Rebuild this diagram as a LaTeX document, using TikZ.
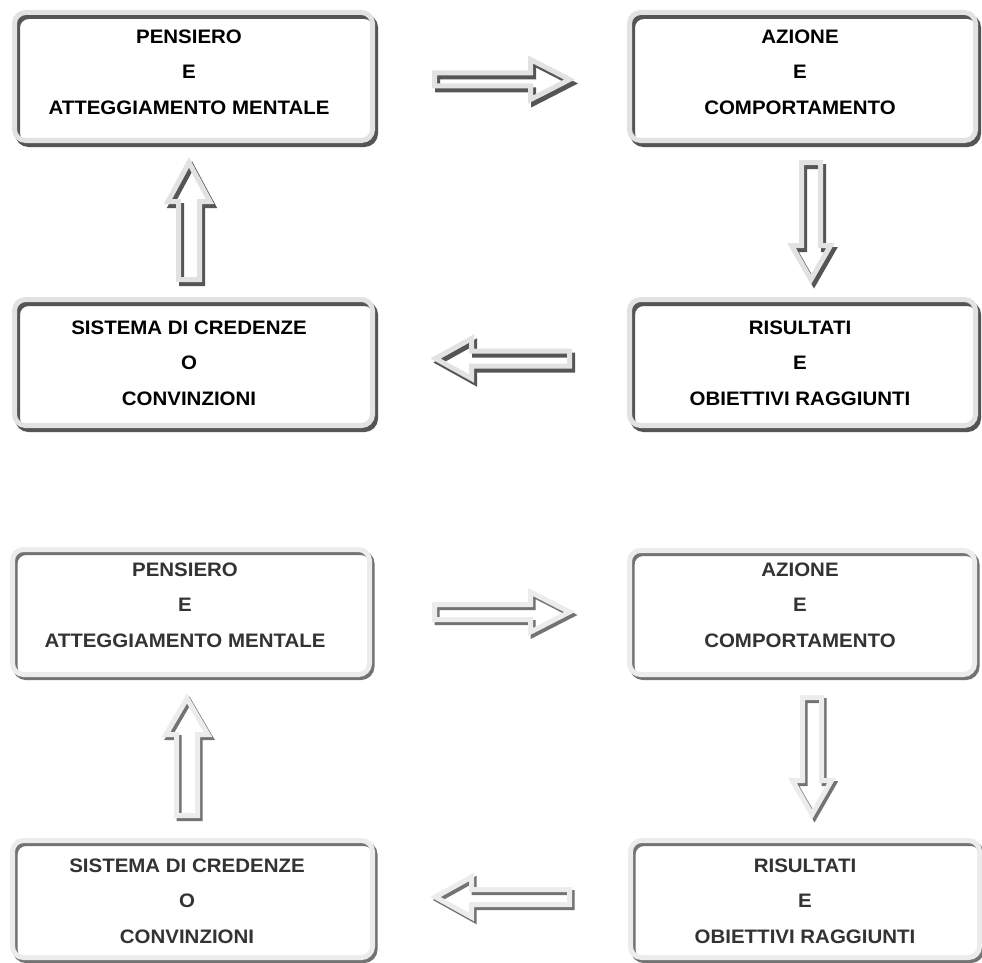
\documentclass[tikz,border=0pt]{standalone}
\usepackage{fontspec}
\setmainfont{Liberation Sans}
\newfontfamily\boxfont[FakeStretch=1.05]{Liberation Sans}
\definecolor{lightA}{HTML}{E2E2E2}
\definecolor{darkA}{HTML}{555555}
\definecolor{lightB}{HTML}{ECECEC}
\definecolor{darkB}{HTML}{737373}
\definecolor{textB}{HTML}{333333}
\tikzset{
  frameA/.style={draw=lightA, line width=5pt, line join=miter, miter limit=10},
  shadeA/.style={draw=darkA, line width=5pt, line join=miter, miter limit=10},
  offA/.style={shift={(3,4)}},
  frameB/.style={draw=lightB, line width=5pt, line join=miter, miter limit=10},
  shadeB/.style={draw=darkB, line width=5pt, line join=miter, miter limit=10},
  offB/.style={shift={(2.5,3)}},
  lblA/.style={align=center, inner sep=0pt, text=black,
    font=\boxfont\bfseries\fontsize{19.5}{35.5}\selectfont},
  lblB/.style={align=center, inner sep=0pt, text=textB,
    font=\boxfont\bfseries\fontsize{19.5}{35.5}\selectfont},
}
% #1 name, #2 x1, #3 y1, #4 x2, #5 y2, #6 style letter
\newcommand\bevelbox[6]{%
  \path[fill=white, rounded corners=11] ({#2+2.5},{#3+2.5}) rectangle ({#4-2.5},{#5-2.5});
  \begin{scope}[off#6]
    \draw[shade#6, rounded corners=11] ({#2+2.5},{#3+2.5}) rectangle ({#4-2.5},{#5-2.5});
  \end{scope}
  \draw[frame#6, rounded corners=11] ({#2+2.5},{#3+2.5}) rectangle ({#4-2.5},{#5-2.5});
  \node[inner sep=0pt, minimum width={#4-#2}, minimum height={#5-#3}] (#1) at ({(#2+#4)/2},{(#3+#5)/2}) {};
}
\newcommand\arrowpath[4]{({-#1/2+2.5},{#2-2.5}) -- ({#1/2-5.5-#3+4},{#2-2.5}) -- ({#1/2-5.5-#3+4},{#4-2.5}) -- ({#1/2-5.5},0) -- ({#1/2-5.5-#3+4},{-#4+2.5}) -- ({#1/2-5.5-#3+4},{-#2+2.5}) -- ({-#1/2+2.5},{-#2+2.5}) -- cycle}
% #1 cx, #2 cy, #3 angle, #4 length, #5 shaft half, #6 head length, #7 head half, #8 style letter
\newcommand\blockarrow[8]{%
  \begin{scope}[shift={(#1,#2)}, rotate=#3]
    \fill[white] \arrowpath{#4}{#5}{#6}{#7};
  \end{scope}
  \begin{scope}[shift={(#1,#2)}, off#8, rotate=#3]
    \draw[shade#8] \arrowpath{#4}{#5}{#6}{#7};
  \end{scope}
  \begin{scope}[shift={(#1,#2)}, rotate=#3]
    \draw[frame#8] \arrowpath{#4}{#5}{#6}{#7};
  \end{scope}
}
\begin{document}
\begin{tikzpicture}[x=1pt,y=-1pt]
\useasboundingbox (0,0) rectangle (982,963);
\clip (0,0) rectangle (982,963);
\fill[white] (0,0) rectangle (982,963);

% ---------- upper diagram ----------
\bevelbox{pensA}{12}{10}{375}{143}{A}
\bevelbox{azioA}{627}{10}{978}{143}{A}
\bevelbox{credA}{12}{297}{375}{428}{A}
\bevelbox{risuA}{627}{297}{978}{428}{A}

\node[lblA] (tpensA) at (189,72) {PENSIERO\\E\\ATTEGGIAMENTO MENTALE};
\node[lblA] (tazioA) at (800,72) {AZIONE\\E\\COMPORTAMENTO};
\node[lblA] (tcredA) at (189,363) {SISTEMA DI CREDENZE\\O\\CONVINZIONI};
\node[lblA] (trisuA) at (800,363) {RISULTATI\\E\\OBIETTIVI RAGGIUNTI};

\blockarrow{503.5}{79.5}{0}{143}{9}{43}{22.5}{A}
\blockarrow{811}{222.5}{-90}{125}{12}{38}{22}{A}
\blockarrow{189}{219.5}{90}{125}{13}{43}{23.5}{A}
\blockarrow{501}{358.5}{180}{142}{10}{40}{22.5}{A}

% ---------- lower diagram ----------
\bevelbox{pensB}{10}{547}{372}{677}{B}
\bevelbox{azioB}{627}{548}{977}{677}{B}
\bevelbox{credB}{10}{838}{375}{960}{B}
\bevelbox{risuB}{628}{838}{982}{960}{B}

\node[lblB] (tpensB) at (185,605) {PENSIERO\\E\\ATTEGGIAMENTO MENTALE};
\node[lblB] (tazioB) at (800,605) {AZIONE\\E\\COMPORTAMENTO};
\node[lblB] (tcredB) at (187,901) {SISTEMA DI CREDENZE\\O\\CONVINZIONI};
\node[lblB] (trisuB) at (805,901) {RISULTATI\\E\\OBIETTIVI RAGGIUNTI};

\blockarrow{503.5}{612}{0}{143}{10}{43}{22.5}{B}
\blockarrow{812}{757.5}{-90}{125}{12}{38}{22}{B}
\blockarrow{187}{755.5}{90}{125}{13}{40}{23.5}{B}
\blockarrow{501}{897}{180}{142}{10}{40}{22.5}{B}
\end{tikzpicture}
\end{document}
